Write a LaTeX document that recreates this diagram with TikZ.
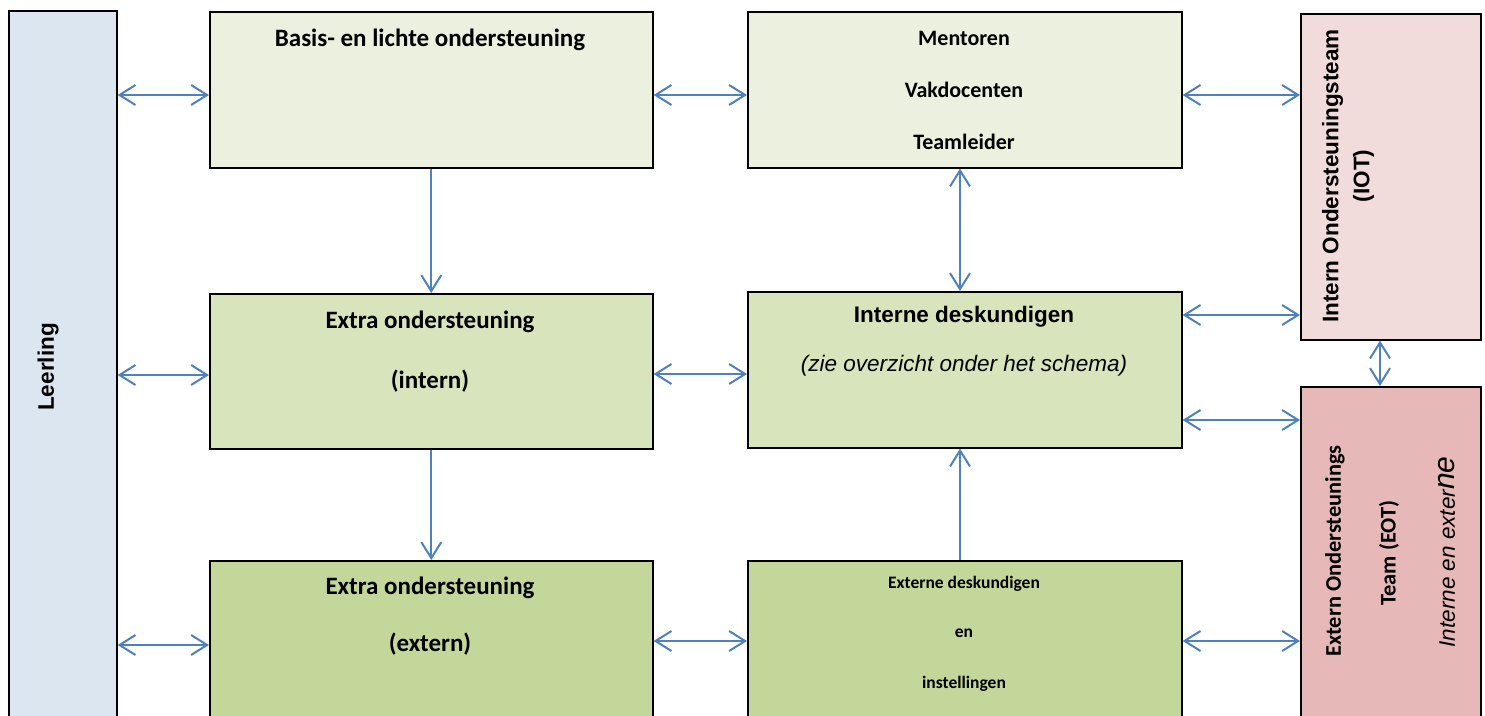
\documentclass[tikz,border=0pt]{standalone}
\usepackage{fontspec}
\setmainfont{Carlito}
\newfontfamily\arl{Liberation Sans}
\usetikzlibrary{arrows.meta}
\definecolor{leercol}{HTML}{DCE6F1}
\definecolor{lightgreen}{HTML}{EBF1DE}
\definecolor{midgreen}{HTML}{D8E4BC}
\definecolor{darkgreen}{HTML}{C4D79B}
\definecolor{iotcol}{HTML}{F2DCDB}
\definecolor{eotcol}{HTML}{E6B8B7}
\definecolor{arrowblue}{HTML}{4F81BD}
\tikzset{
  box/.style={draw=black, line width=1.6pt, inner sep=0pt, anchor=north west},
  lbl/.style={inner sep=0pt, align=center, font=\bfseries\fontsize{25}{30}\selectfont},
  lblm/.style={inner sep=0pt, align=center, font=\bfseries\fontsize{22}{26}\selectfont},
  lbls/.style={inner sep=0pt, align=center, font=\bfseries\fontsize{17.5}{21}\selectfont},
  lbla/.style={inner sep=0pt, align=center, font=\arl\bfseries\fontsize{22.5}{31}\selectfont},
  conn/.style={draw=arrowblue, line width=2pt, >={Straight Barb[length=16pt,width=20pt]}},
  dbl/.style={conn, <->},
  sgl/.style={conn, ->}
}
\begin{document}
\begin{tikzpicture}[x=1pt,y=-1pt]
\useasboundingbox (0,0) rectangle (1485,715);
\clip (0,0) rectangle (1485,715);
\fill[white] (0,0) rectangle (1485,715);

% boxes
\node[box, fill=leercol, minimum width=108pt, minimum height=730pt] (leer) at (8,10) {};
\node[box, fill=lightgreen, minimum width=443pt, minimum height=156pt] (basis) at (209,11) {};
\node[box, fill=lightgreen, minimum width=434pt, minimum height=156pt] (ment) at (747,11) {};
\node[box, fill=iotcol, minimum width=180pt, minimum height=326pt] (iot) at (1300,13) {};
\node[box, fill=midgreen, minimum width=443pt, minimum height=155pt] (exi) at (209,293) {};
\node[box, fill=midgreen, minimum width=434pt, minimum height=156pt] (ind) at (747,291) {};
\node[box, fill=eotcol, minimum width=180pt, minimum height=340pt] (eot) at (1300,386) {};
\node[box, fill=darkgreen, minimum width=443pt, minimum height=170pt] (exe) at (209,560) {};
\node[box, fill=darkgreen, minimum width=434pt, minimum height=170pt] (exd) at (747,560) {};

% texts
\node[lbla, rotate=90] (tleer) at (48,367) {Leerling};
\node[lbl] (tbasis) at (430,40) {Basis- en lichte ondersteuning};
\node[lblm] (tm1) at (964,38) {Mentoren};
\node[lblm] (tm2) at (964,90) {Vakdocenten};
\node[lblm] (tm3) at (964,142) {Teamleider};
\node[lbl] (tei1) at (430,322) {Extra ondersteuning};
\node[lbl] (tei2) at (430,381) {(intern)};
\node[lbla] (tind1) at (964,317) {Interne deskundigen};
\node[inner sep=0pt, font=\arl\itshape\fontsize{22.5}{27}\selectfont] (tind2) at (964,366) {(zie overzicht onder het schema)};
\node[lbl] (tee1) at (430,588) {Extra ondersteuning};
\node[lbl] (tee2) at (430,644) {(extern)};
\node[lbls] (ted1) at (964,584) {Externe deskundigen};
\node[lbls] (ted2) at (964,633) {en};
\node[lbls] (ted3) at (964,684) {instellingen};
\node[lbla, rotate=90] (tiot) at (1348,176) {Intern Ondersteuningsteam\\(IOT)};
\node[inner sep=0pt, rotate=90, font=\bfseries\fontsize{22.4}{27}\selectfont] (teot1) at (1335,551) {Extern Ondersteunings};
\node[inner sep=0pt, rotate=90, font=\bfseries\fontsize{22.4}{27}\selectfont] (teot2) at (1389,553) {Team (EOT)};
\node[inner sep=0pt, rotate=90, font=\arl\itshape\fontsize{22.5}{27}\selectfont] (teot3) at (1447,552) {Interne en exter{\fontsize{30}{30}\selectfont ne}};

% horizontal connectors
\draw[dbl] (leer.east |- 0,95) -- (basis.west |- 0,95);
\draw[dbl] (basis.east |- 0,95) -- (ment.west |- 0,95);
\draw[dbl] (ment.east |- 0,95) -- (iot.west |- 0,95);
\draw[dbl] (leer.east |- 0,375) -- (exi.west |- 0,375);
\draw[dbl] (exi.east |- 0,374) -- (ind.west |- 0,374);
\draw[dbl] (ind.east |- 0,315) -- (iot.west |- 0,315);
\draw[dbl] (ind.east |- 0,420) -- (eot.west |- 0,420);
\draw[dbl] (leer.east |- 0,645) -- (exe.west |- 0,645);
\draw[dbl] (exe.east |- 0,641) -- (exd.west |- 0,641);
\draw[dbl] (exd.east |- 0,641) -- (eot.west |- 0,641);

% vertical connectors
\draw[sgl] (basis.south) -- (exi.north);
\draw[sgl] (exi.south) -- (exe.north);
\draw[dbl] (ment.south -| 960,0) -- (ind.north -| 960,0);
\draw[sgl] (exd.north -| 960,0) -- (ind.south -| 960,0);
\draw[dbl] (iot.south -| 1380,0) -- (eot.north -| 1380,0);
\end{tikzpicture}
\end{document}
